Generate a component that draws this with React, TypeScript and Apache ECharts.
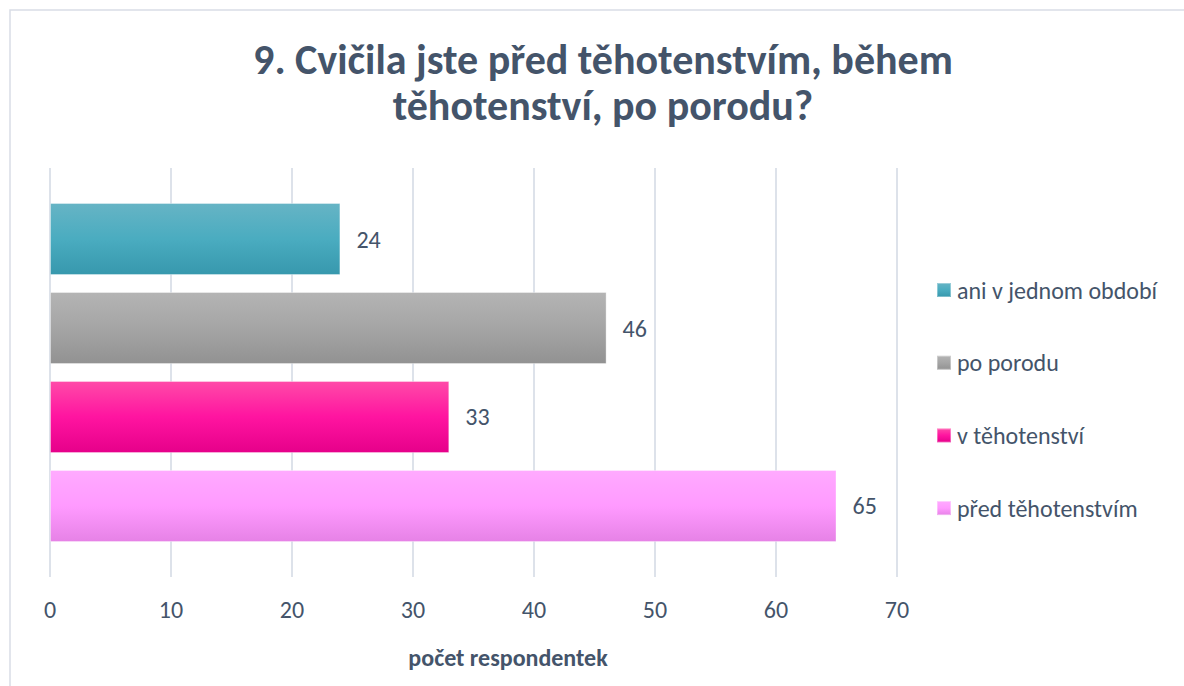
import React, { useEffect, useRef } from "react";
import * as echarts from "echarts";

const titleLines = ["9. Cvičila jste před těhotenstvím, během", "těhotenství, po porodu?"];
const seriesNames = ["ani v jednom období", "po porodu", "v těhotenství", "před těhotenstvím"];
const seriesValues = [24, 46, 33, 65];
const categories = ["odpověď"];
const axisName = "počet respondentek";
const gradients: [string, string, string][] = [
  ["#66b4c5", "#4aacc0", "#3798ad"],
  ["#b4b4b4", "#a5a5a5", "#929292"],
  ["#ff4aa8", "#ff14a0", "#e6008a"],
  ["#ffaaff", "#ff9aff", "#e682e6"],
];

const FONT = "Carlito, 'Open Sans', 'Noto Sans', sans-serif";
const TEXT = "#44546a";

function grad(c: [string, string, string]) {
  return new echarts.graphic.LinearGradient(0, 0, 0, 1, [
    { offset: 0, color: c[0] },
    { offset: 0.5, color: c[1] },
    { offset: 1, color: c[2] },
  ]);
}

export default function App() {
  const ref = useRef<HTMLDivElement>(null);
  useEffect(() => {
    if (!ref.current) return;
    const chart = echarts.init(ref.current, null, { renderer: "svg" });
    chart.setOption({
      animation: false,
      backgroundColor: "#ffffff",
      textStyle: { fontFamily: FONT },
      title: titleLines.map((t, i) => ({
        text: t,
        left: 603,
        textAlign: "center",
        top: 37 + i * 46,
        padding: 0,
        textStyle: {
          fontFamily: FONT,
          fontWeight: "bold",
          fontSize: 42,
          lineHeight: 44,
          color: TEXT,
        },
      })),
      legend: {
        orient: "vertical",
        left: 936,
        top: 278,
        padding: 0,
        itemWidth: 14,
        itemHeight: 14,
        itemGap: 48.7,
        icon: "rect",
        data: seriesNames,
        textStyle: { fontFamily: FONT, fontSize: 24, color: TEXT, lineHeight: 24, padding: [0, 0, 0, 1] },
      },
      grid: { left: 50, top: 168, width: 847, height: 409, containLabel: false },
      xAxis: {
        type: "value",
        min: 0,
        max: 70,
        interval: 10,
        axisLine: { show: false },
        axisTick: { show: false },
        axisLabel: { color: TEXT, fontSize: 24, fontFamily: FONT, margin: 20 },
        splitLine: { lineStyle: { color: "#dde2ea", width: 2 } },
      },
      yAxis: {
        type: "category",
        data: categories,
        axisLine: { show: false },
        axisTick: { show: false },
        axisLabel: { show: false },
      },
      series: seriesNames.map((name, i) => ({
        name,
        type: "bar",
        data: [seriesValues[i]],
        barWidth: 72,
        barGap: "23.6%",
        itemStyle: {
          color: grad(gradients[i]),
          borderColor: "rgba(255,255,255,0.35)",
          borderWidth: 1,
        },
        label: {
          show: true,
          position: "right",
          distance: 16,
          color: TEXT,
          fontSize: 24,
          fontFamily: FONT,
        },
      })),
      graphic: [
        {
          type: "rect",
          shape: { x: 10, y: 10, width: 1200, height: 700 },
          style: { fill: "none", stroke: "#d9dde6", lineWidth: 1.5 },
          silent: true,
        },
        {
          type: "text",
          x: 508,
          y: 657,
          style: {
            text: axisName,
            fontFamily: FONT,
            fontWeight: "bold",
            fontSize: 24,
            fill: TEXT,
            textAlign: "center",
            textVerticalAlign: "middle",
          },
        },
      ],
    });
    return () => chart.dispose();
  }, []);
  return (
    <div
      ref={ref}
      style={{ position: "fixed", left: 0, top: 0, width: 1184, height: 686 }}
    />
  );
}
